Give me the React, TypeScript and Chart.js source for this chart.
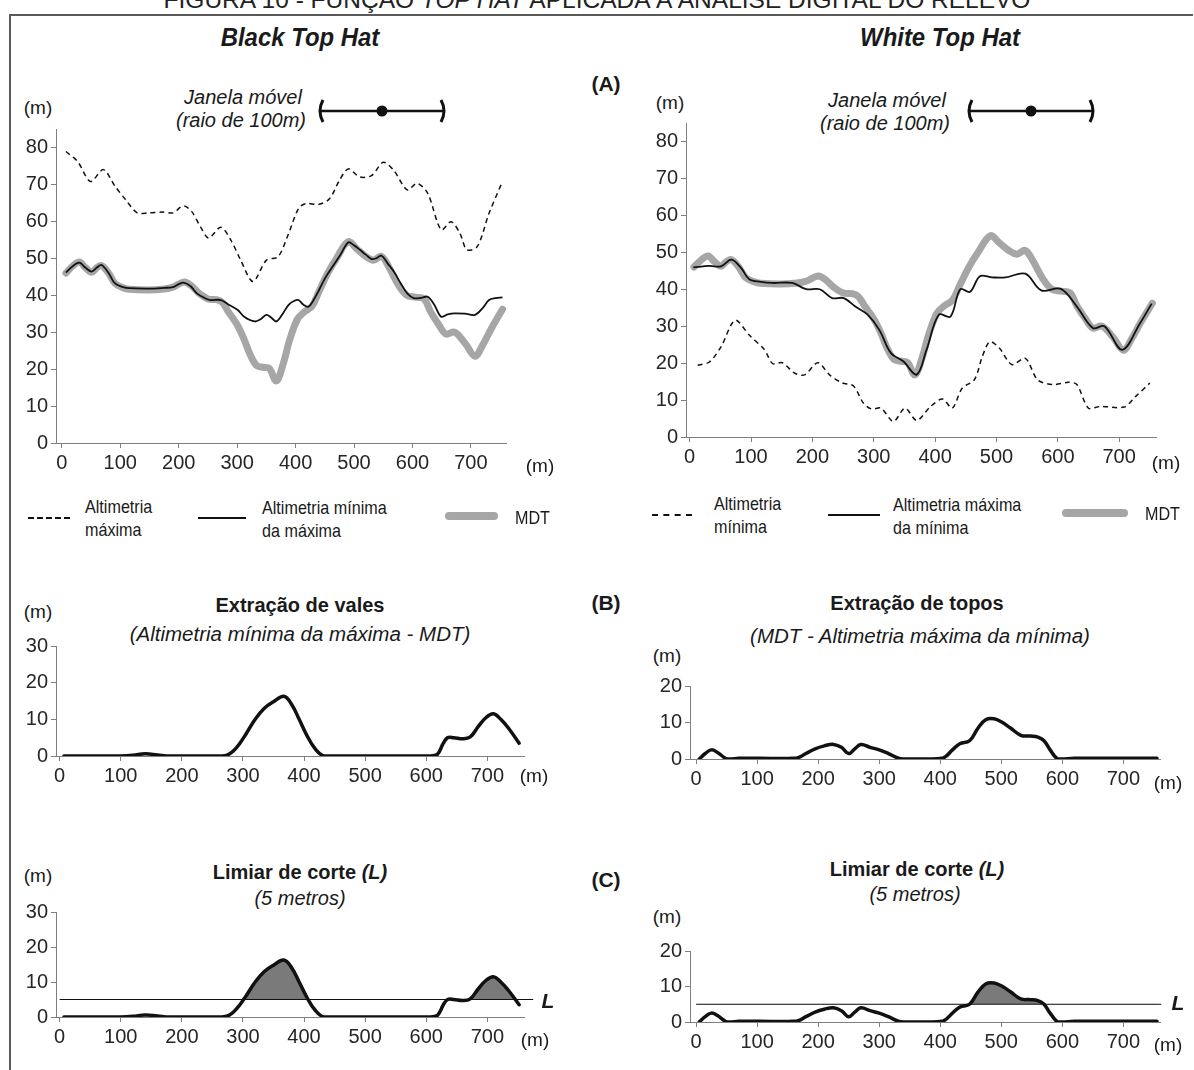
import React, { useEffect, useRef } from 'react';
import { Chart, registerables } from 'chart.js';
Chart.register(...registerables);

type P = [number, number];

// ---------- data ----------
const xTickValues = [0, 100, 200, 300, 400, 500, 600, 700];
const yTicksTop = [0, 10, 20, 30, 40, 50, 60, 70, 80];
const yTicks30 = [0, 10, 20, 30];
const yTicks20 = [0, 10, 20];

// Black Top Hat – Altimetria máxima (dashed)
const altMaxima: P[] = [
  [7, 78.9], [27, 76.2], [49, 70.8], [71, 74], [91, 69.5], [109, 65.9], [129, 62.3], [149, 62.3],
  [173, 62.5], [190, 62.3], [208, 64.2], [222, 62.7], [237, 58.6], [251, 55.5], [272, 58.4],
  [289, 55], [306, 49.5], [327, 43.7], [350, 49.5], [370, 50.4], [388, 56.7], [405, 63.5],
  [417, 64.8], [440, 64.6], [458, 66.1], [475, 71.1], [490, 74.2], [510, 72], [530, 72.4],
  [550, 76], [568, 73.8], [591, 68.5], [608, 70.3], [626, 67.6], [649, 57.7], [666, 59.9],
  [681, 56.8], [693, 52.3], [711, 53.2], [731, 62.2], [754, 70.8],
];

// Black Top Hat – Altimetria mínima da máxima (solid)
const altMinDaMax: P[] = [
  [7, 46.1], [18, 47.8], [30, 48.8], [40, 47.5], [51, 46.4], [60, 47.5], [68, 48.2], [80, 46],
  [91, 43.2], [105, 42.2], [115, 41.9], [149, 41.8], [175, 42], [190, 42.2], [200, 43], [208, 43.4],
  [220, 42.5], [231, 40.5], [245, 39.2], [254, 38.7], [272, 38.7], [285, 37.5], [301, 36],
  [312, 34.2], [330, 32.9], [340, 33.5], [350, 34.7], [358, 34], [367, 32.9], [378, 35],
  [388, 37.4], [398, 38.5], [405, 38.7], [413, 37.5], [422, 36.9], [430, 38.5], [440, 41.4],
  [450, 44.5], [463, 47.7], [477, 51], [490, 54.3], [500, 53.5], [510, 52.3], [520, 51],
  [530, 49.8], [538, 50], [547, 50.7], [558, 48.5], [568, 46.4], [580, 43.2], [591, 40.5],
  [602, 39.2], [615, 39.3], [626, 39.6], [637, 37.5], [649, 34.2], [660, 34.8], [672, 35.1],
  [690, 35], [707, 34.7], [720, 36.5], [731, 38.7], [742, 39.2], [754, 39.4],
];

// MDT (terrain profile, both panels)
const mdt: P[] = [
  [7, 46], [18, 47.8], [30, 49], [40, 47.5], [51, 46.2], [60, 47.5], [68, 48], [80, 46], [91, 43.2],
  [105, 42], [115, 41.6], [149, 41.4], [175, 41.7], [190, 42.2], [200, 43], [210, 43.6], [222, 42.5],
  [235, 40.5], [250, 39], [265, 38.8], [275, 38], [285, 35.5], [300, 32], [312, 28], [322, 24],
  [333, 21], [345, 20.5], [355, 20.2], [367, 16.8], [378, 21], [390, 28], [403, 33.5], [415, 35.5],
  [428, 37], [440, 41], [455, 46], [470, 50], [490, 54.5], [505, 52.5], [520, 50.5], [533, 49.5],
  [547, 50.5], [560, 47.5], [575, 43], [590, 40], [605, 39.5], [620, 39], [631, 35.5], [645, 32],
  [657, 29.5], [672, 30], [690, 27], [707, 23.5], [720, 26.5], [735, 31], [754, 36.2],
];

// White Top Hat – Altimetria mínima (dashed)
const altMinima: P[] = [
  [13, 19.4], [32, 20.3], [51, 24.4], [74, 31.6], [97, 27.6], [122, 23.6], [135, 19.9], [151, 20.1],
  [171, 17.3], [187, 16.8], [209, 20.1], [228, 16.8], [248, 14.7], [267, 13.8], [283, 9.2],
  [296, 7.6], [312, 7.8], [332, 4.2], [351, 7.8], [370, 4.5], [393, 8.3], [412, 10.3], [428, 7.8],
  [444, 13.2], [464, 15.5], [477, 21.8], [489, 25.8], [505, 24], [525, 19.6], [547, 21.3],
  [567, 15.5], [592, 14.2], [617, 14.8], [631, 14.2], [650, 7.8], [669, 8.3], [708, 8.1],
  [727, 11], [750, 14.6],
];

// White Top Hat – Altimetria máxima da mínima (solid)
const altMaxDaMin: P[] = [
  [6, 45.9], [32, 46.3], [51, 46.2], [68, 48], [84, 45.7], [97, 42.7], [116, 42], [135, 41.7],
  [167, 41.7], [190, 40], [212, 40], [232, 37.6], [251, 37.6], [270, 35.3], [290, 33.1], [309, 29],
  [328, 22.7], [348, 20.5], [370, 16.9], [386, 23.6], [406, 33.1], [425, 32.6], [441, 40],
  [457, 39.3], [473, 43.5], [493, 43.2], [515, 43.2], [547, 44.2], [573, 39.7], [605, 40.1],
  [631, 35.3], [657, 29.5], [676, 30], [705, 23.6], [734, 30.8], [753, 36.1],
];

// Extração de vales
const vales: P[] = [
  [7, 0], [50, 0], [100, 0], [120, 0.2], [140, 0.6], [160, 0.3], [180, 0], [220, 0], [265, 0],
  [275, 0.3], [285, 1.5], [295, 3.5], [305, 6], [320, 10], [335, 13], [350, 14.8], [367, 16.3],
  [380, 14], [392, 10], [405, 5.5], [418, 2], [432, 0], [450, 0], [500, 0], [560, 0], [605, 0],
  [618, 0.4], [628, 3.5], [635, 5], [645, 5], [660, 4.7], [672, 5.2], [685, 8], [698, 10.5],
  [710, 11.5], [722, 10], [735, 7.5], [752, 3.5],
];

// Extração de topos
const topos: P[] = [
  [5, 0], [15, 1.5], [25, 2.5], [35, 1.8], [48, 0.2], [55, 0], [70, 0.2], [100, 0.2], [165, 0.3],
  [180, 1.5], [195, 2.8], [210, 3.6], [225, 4], [238, 3.2], [250, 1.5], [260, 2.8], [270, 4],
  [285, 3.2], [300, 2.5], [315, 1.5], [330, 0.3], [340, 0], [380, 0], [405, 0.3], [420, 2.5],
  [432, 4.2], [448, 5], [462, 8.5], [475, 10.8], [488, 11], [500, 10.2], [515, 8.5], [532, 6.5],
  [548, 6.3], [560, 6], [570, 5], [580, 2.5], [592, 0], [600, 0], [620, 0.2], [700, 0.2], [755, 0.2],
];

const limiar = 5;

// ---------- helpers ----------
const FONT = "'Liberation Sans', Arial, sans-serif";
const AXIS = '#7f7f7f';
const toXY = (d: P[]) => d.map(([x, y]) => ({ x, y }));

type PanelProps = {
  x0: number; right: number; top: number; bottom: number;
  xMin: number; xMax: number; yMax: number; yTicks: number[]; datasets: any[];
};

function Panel(p: PanelProps) {
  const ref = useRef<HTMLCanvasElement>(null);
  const Yw = 50, padTop = 16, padRight = 40, Xh = 36;
  const w = p.right - p.x0 + Yw + padRight;
  const h = p.bottom - p.top + padTop + Xh;
  useEffect(() => {
    const chart = new Chart(ref.current!, {
      type: 'line',
      data: { datasets: p.datasets },
      options: {
        responsive: false,
        animation: false,
        devicePixelRatio: 1,
        layout: { padding: { top: padTop, right: padRight, left: 0, bottom: 0 } },
        plugins: { legend: { display: false }, tooltip: { enabled: false } },
        elements: { point: { radius: 0 } },
        scales: {
          x: {
            type: 'linear', min: p.xMin, max: p.xMax,
            border: { display: true, color: AXIS, width: 1 },
            grid: { drawOnChartArea: false, drawTicks: true, tickLength: 5, color: AXIS },
            ticks: { color: '#262626', font: { family: FONT, size: 20 }, padding: 3, maxRotation: 0, autoSkip: false },
            afterBuildTicks: (s: any) => { s.ticks = xTickValues.map((v) => ({ value: v })); },
            afterFit: (s: any) => { s.height = Xh; },
          },
          y: {
            type: 'linear', min: 0, max: p.yMax,
            border: { display: true, color: AXIS, width: 1 },
            grid: { drawOnChartArea: false, drawTicks: true, tickLength: 5, color: AXIS },
            ticks: { color: '#262626', font: { family: FONT, size: 20 }, padding: 3, autoSkip: false },
            afterBuildTicks: (s: any) => { s.ticks = p.yTicks.map((v) => ({ value: v })); },
            afterFit: (s: any) => { s.width = Yw; },
          },
        },
      } as any,
    });
    return () => chart.destroy();
  }, []);
  return (
    <canvas ref={ref} width={w} height={h}
      style={{ position: 'absolute', left: p.x0 - Yw, top: p.top - padTop, width: w, height: h }} />
  );
}

function T(props: { x: number; y: number; children: any; align?: 'left' | 'center'; size?: number; bold?: boolean; italic?: boolean; sx?: number }) {
  const { x, y, align = 'center', size = 18, bold, italic, sx = 1 } = props;
  return (
    <div style={{
      position: 'absolute', left: x, top: y, whiteSpace: 'nowrap',
      transform: (align === 'center' ? 'translate(-50%, -50%)' : 'translate(0, -50%)') + ` scaleX(${sx})`,
      transformOrigin: align === 'center' ? 'center center' : 'left center',
      fontFamily: FONT, fontSize: size, lineHeight: 1.15, color: '#1a1a1a',
      fontWeight: bold ? 'bold' : 'normal', fontStyle: italic ? 'italic' : 'normal',
    }}>{props.children}</div>
  );
}

function Ruler({ x, y }: { x: number; y: number }) {
  return (
    <svg width={132} height={26} style={{ position: 'absolute', left: x, top: y - 13 }}>
      <path d="M7 2 Q1 13 7 24" stroke="#111" strokeWidth={3} fill="none" />
      <path d="M125 2 Q131 13 125 24" stroke="#111" strokeWidth={3} fill="none" />
      <line x1={4} y1={13} x2={128} y2={13} stroke="#111" strokeWidth={2.5} />
      <circle cx={66} cy={13} r={5.5} fill="#111" />
    </svg>
  );
}

function LegendLine({ x, y, w, kind }: { x: number; y: number; w: number; kind: 'dash' | 'solid' | 'mdt' }) {
  const style: any = { position: 'absolute', left: x, width: w };
  if (kind === 'dash') Object.assign(style, { top: y - 1, borderTop: '2px dashed #111' });
  if (kind === 'solid') Object.assign(style, { top: y - 1, height: 2, background: '#111' });
  if (kind === 'mdt') Object.assign(style, { top: y - 4, height: 8, background: '#a6a6a6', borderRadius: 4 });
  return <div style={style} />;
}

function topDatasets(dashed: P[], solid: P[]) {
  return [
    { data: toXY(solid), borderColor: '#111', borderWidth: 1.8, tension: 0.35, pointRadius: 0 },
    { data: toXY(dashed), borderColor: '#111', borderWidth: 1.5, borderDash: [5, 4], tension: 0.3, pointRadius: 0 },
    { data: toXY(mdt), borderColor: '#a6a6a6', borderWidth: 7, tension: 0.35, pointRadius: 0, borderCapStyle: 'round', borderJoinStyle: 'round' },
  ];
}

function curveDataset(d: P[]) {
  return { data: toXY(d), borderColor: '#111', borderWidth: 3.5, tension: 0.4, pointRadius: 0, borderCapStyle: 'round' };
}

function thresholdDatasets(d: P[], lEnd: number) {
  return [
    { data: [{ x: 0, y: limiar }, { x: lEnd, y: limiar }], borderColor: '#111', borderWidth: 1.2, pointRadius: 0, clip: false },
    { ...curveDataset(d), fill: { target: { value: limiar }, above: '#7a7a7a', below: 'rgba(0,0,0,0)' } },
  ];
}

const LG = 19;
const LSX = 0.85;

export default function App() {
  return (
    <div style={{ position: 'absolute', left: 0, top: 0, width: 1194, height: 1070, background: '#fff', overflow: 'hidden', fontFamily: FONT }}>
      {/* frame and cut title */}
      <div style={{ position: 'absolute', left: 0, top: -12, width: 1194, textAlign: 'center', fontFamily: FONT, fontSize: 24.5, lineHeight: '24.5px', color: '#222', whiteSpace: 'nowrap' }}>
        FIGURA 10 - FUNÇÃO <i>TOP HAT</i> APLICADA À ANÁLISE DIGITAL DO RELEVO
      </div>
      <div style={{ position: 'absolute', left: 9, top: 14, width: 1184, height: 2, background: '#5a5a5a' }} />
      <div style={{ position: 'absolute', left: 9, top: 14, width: 2, height: 1056, background: '#5a5a5a' }} />

      <T x={300} y={38} size={26} bold italic sx={0.92}>Black Top Hat</T>
      <T x={940} y={38} size={26} bold italic sx={0.92}>White Top Hat</T>

      {/* top-left */}
      <T x={38} y={108} size={19}>(m)</T>
      <T x={243} y={97} italic size={20}>Janela móvel</T>
      <T x={241} y={120} italic size={20}>(raio de 100m)</T>
      <Ruler x={316} y={111} />
      <Panel x0={56} right={506} top={129} bottom={443} xMin={-10} xMax={760} yMax={85} yTicks={yTicksTop}
        datasets={topDatasets(altMaxima, altMinDaMax)} />
      <T x={540} y={466} size={19}>(m)</T>

      {/* top-right */}
      <T x={606} y={84} size={21} bold>(A)</T>
      <T x={670} y={103} size={19}>(m)</T>
      <T x={887} y={100} italic size={20}>Janela móvel</T>
      <T x={885} y={123} italic size={20}>(raio de 100m)</T>
      <Ruler x={965} y={111} />
      <Panel x0={686} right={1156} top={123} bottom={437} xMin={-6} xMax={760} yMax={85} yTicks={yTicksTop}
        datasets={topDatasets(altMinima, altMaxDaMin)} />
      <T x={1166} y={463} size={19}>(m)</T>

      {/* legends */}
      <LegendLine x={28} y={518} w={42} kind="dash" />
      <T x={85} y={507} align="left" size={LG} sx={LSX}>Altimetria</T>
      <T x={85} y={530} align="left" size={LG} sx={LSX}>máxima</T>
      <LegendLine x={198} y={518} w={48} kind="solid" />
      <T x={262} y={508} align="left" size={LG} sx={LSX}>Altimetria mínima</T>
      <T x={262} y={531} align="left" size={LG} sx={LSX}>da máxima</T>
      <LegendLine x={445} y={516} w={53} kind="mdt" />
      <T x={515} y={518} align="left" size={LG} sx={LSX}>MDT</T>

      <LegendLine x={652} y={515} w={40} kind="dash" />
      <T x={714} y={504} align="left" size={LG} sx={LSX}>Altimetria</T>
      <T x={714} y={527} align="left" size={LG} sx={LSX}>mínima</T>
      <LegendLine x={828} y={515} w={52} kind="solid" />
      <T x={893} y={505} align="left" size={LG} sx={LSX}>Altimetria máxima</T>
      <T x={893} y={528} align="left" size={LG} sx={LSX}>da mínima</T>
      <LegendLine x={1062} y={513} w={66} kind="mdt" />
      <T x={1145} y={514} align="left" size={LG} sx={LSX}>MDT</T>

      {/* middle-left */}
      <T x={38} y={612} size={19}>(m)</T>
      <T x={300} y={605} bold size={20}>Extração de vales</T>
      <T x={300} y={634} italic size={20.5}>(Altimetria mínima da máxima - MDT)</T>
      <Panel x0={56} right={524} top={646} bottom={756} xMin={-6} xMax={760} yMax={30} yTicks={yTicks30}
        datasets={[curveDataset(vales)]} />
      <T x={534} y={776} size={19}>(m)</T>

      {/* middle-right */}
      <T x={606} y={603} size={21} bold>(B)</T>
      <T x={917} y={603} bold size={20}>Extração de topos</T>
      <T x={920} y={636} italic size={20.5}>(MDT - Altimetria máxima da mínima)</T>
      <T x={667} y={656} size={19}>(m)</T>
      <Panel x0={690} right={1160} top={686} bottom={759} xMin={-10} xMax={760} yMax={20} yTicks={yTicks20}
        datasets={[curveDataset(topos)]} />
      <T x={1168} y={783} size={19}>(m)</T>

      {/* bottom-left */}
      <T x={38} y={876} size={19}>(m)</T>
      <T x={300} y={872} bold size={20}>Limiar de corte <i>(L)</i></T>
      <T x={300} y={898} italic size={20}>(5 metros)</T>
      <Panel x0={56} right={524} top={912} bottom={1017} xMin={-6} xMax={760} yMax={30} yTicks={yTicks30}
        datasets={thresholdDatasets(vales, 775)} />
      <T x={535} y={1040} size={19}>(m)</T>
      <T x={548} y={1001} size={21} bold italic>L</T>

      {/* bottom-right */}
      <T x={606} y={880} size={21} bold>(C)</T>
      <T x={917} y={869} bold size={20}>Limiar de corte <i>(L)</i></T>
      <T x={915} y={894} italic size={20}>(5 metros)</T>
      <T x={667} y={917} size={19}>(m)</T>
      <Panel x0={690} right={1160} top={951} bottom={1022} xMin={-10} xMax={760} yMax={20} yTicks={yTicks20}
        datasets={thresholdDatasets(topos, 762)} />
      <T x={1168} y={1045} size={19}>(m)</T>
      <T x={1178} y={1003} size={21} bold italic>L</T>
    </div>
  );
}
